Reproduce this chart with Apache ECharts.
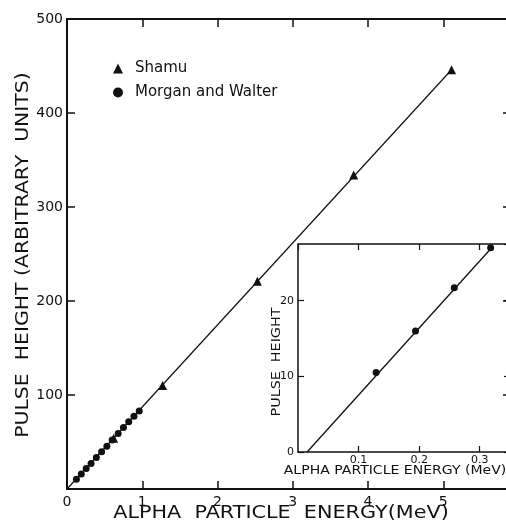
<!DOCTYPE html>
<html>
<head>
<meta charset="utf-8">
<script src="https://cdn.jsdelivr.net/npm/echarts@6/dist/echarts.min.js"></script>
<style>
  html, body { margin: 0; padding: 0; background: #fff; overflow: hidden; }
  /* the frames run slightly past the right edge of the window */
  #chart { width: 520px; height: 523px; }
</style>
</head>
<body>
<div id="chart"></div>
<script>
// Main panel: pulse height against alpha particle energy
var mainXTicks = [0, 1, 2, 3, 4, 5];
var mainYTicks = [100, 200, 300, 400, 500];

var shamuX = [0.62, 1.27, 2.53, 3.81, 5.11];
var shamuY = [54, 110, 221, 334, 446];

var morganX = [0.125, 0.19, 0.255, 0.32, 0.39, 0.46, 0.53, 0.60, 0.68, 0.75, 0.82, 0.89, 0.96];
var morganY = [10.5, 16.0, 21.7, 27.0, 33.5, 39.5, 45.5, 52.0, 59.0, 65.5, 71.5, 77.5, 83.0];

var fitX = [0, 5.11];
var fitY = [0, 446];

// Inset: low-energy region
var insetXTicks = [0.1, 0.2, 0.3];
var insetYTicks = [0, 10, 20];

var insetX = [0.129, 0.194, 0.258, 0.318];
var insetY = [10.5, 16.0, 21.7, 27.0];

var insetFitX = [0.015, 0.322];
var insetFitY = [0, 27.2];

function pairs(xs, ys) {
  return xs.map(function (x, i) { return [x, ys[i]]; });
}
function inList(list, v) {
  return list.some(function (t) { return Math.abs(t - v) < 1e-6; });
}

var FONT = 'DejaVu Sans';
var INK = '#111';

var chart = echarts.init(document.getElementById('chart'), null, { renderer: 'canvas' });

function frameAxis(base) {
  return Object.assign({
    type: 'value',
    axisLine: { show: true, onZero: false, lineStyle: { color: INK, width: 2 } },
    axisTick: { show: true, inside: true, length: 8, lineStyle: { color: INK, width: 1.5 } },
    splitLine: { show: false },
    axisLabel: { show: false }
  }, base);
}

var insetLine = { show: true, onZero: false, lineStyle: { color: INK, width: 1.5 } };
var insetTick = { show: true, inside: true, length: 6, lineStyle: { color: INK, width: 1.2 } };

chart.setOption({
  backgroundColor: '#fff',
  animation: false,
  textStyle: { fontFamily: FONT, color: INK },
  grid: [
    { left: 67, top: 19, width: 444, height: 470, containLabel: false },
    { left: 298, top: 244, width: 212, height: 208, containLabel: false }
  ],
  legend: {
    orient: 'vertical',
    left: 108,
    top: 56,
    itemWidth: 10,
    itemHeight: 10,
    itemGap: 9,
    selectedMode: false,
    textStyle: { fontFamily: FONT, fontSize: 15, color: INK, padding: [0, 0, 0, 7] },
    data: [
      { name: 'Shamu', icon: 'triangle' },
      { name: 'Morgan and Walter', icon: 'circle' }
    ]
  },
  xAxis: [
    frameAxis({
      gridIndex: 0, position: 'bottom', min: 0, max: 5.9, interval: 1,
      axisLabel: {
        show: true, margin: 6, fontFamily: FONT, fontSize: 14, color: INK,
        showMaxLabel: false,
        formatter: function (v) { return inList(mainXTicks, v) ? String(v) : ''; }
      }
    }),
    frameAxis({ gridIndex: 0, position: 'top', min: 0, max: 5.9, interval: 1 }),
    frameAxis({
      gridIndex: 1, position: 'bottom', min: 0, max: 0.35, interval: 0.1,
      axisLine: insetLine, axisTick: insetTick,
      axisLabel: {
        show: true, margin: 3, fontFamily: FONT, fontSize: 11, color: INK,
        showMinLabel: false, showMaxLabel: false,
        formatter: function (v) { return inList(insetXTicks, v) ? v.toFixed(1) : ''; }
      }
    }),
    frameAxis({
      gridIndex: 1, position: 'top', min: 0, max: 0.35, interval: 0.1,
      axisLine: insetLine, axisTick: insetTick
    })
  ],
  yAxis: [
    frameAxis({
      gridIndex: 0, position: 'left', min: 0, max: 500, interval: 100,
      axisLabel: {
        show: true, margin: 4, fontFamily: FONT, fontSize: 14, color: INK,
        showMinLabel: false,
        formatter: function (v) { return inList(mainYTicks, v) ? String(v) : ''; }
      }
    }),
    frameAxis({ gridIndex: 0, position: 'right', min: 0, max: 500, interval: 100 }),
    frameAxis({
      gridIndex: 1, position: 'left', min: 0, max: 27.5, interval: 10,
      axisLine: insetLine, axisTick: insetTick,
      axisLabel: {
        show: true, margin: 4, fontFamily: FONT, fontSize: 11, color: INK,
        showMaxLabel: false,
        formatter: function (v) { return inList(insetYTicks, v) ? String(v) : ''; }
      }
    }),
    frameAxis({
      gridIndex: 1, position: 'right', min: 0, max: 27.5, interval: 10,
      axisLine: insetLine, axisTick: insetTick
    })
  ],
  series: [
    {
      name: 'fit', type: 'line', xAxisIndex: 0, yAxisIndex: 0,
      data: pairs(fitX, fitY), symbol: 'none', silent: true,
      lineStyle: { color: INK, width: 1.2 }
    },
    {
      name: 'Morgan and Walter', type: 'scatter', xAxisIndex: 0, yAxisIndex: 0,
      data: pairs(morganX, morganY), symbol: 'circle', symbolSize: 7,
      itemStyle: { color: INK, opacity: 1 }
    },
    {
      name: 'Shamu', type: 'scatter', xAxisIndex: 0, yAxisIndex: 0,
      data: pairs(shamuX, shamuY), symbol: 'triangle', symbolSize: 9,
      itemStyle: { color: INK, opacity: 1 }
    },
    {
      name: 'inset fit', type: 'line', xAxisIndex: 2, yAxisIndex: 2,
      data: pairs(insetFitX, insetFitY), symbol: 'none', silent: true,
      lineStyle: { color: INK, width: 1.3 }
    },
    {
      name: 'inset points', type: 'scatter', xAxisIndex: 2, yAxisIndex: 2,
      data: pairs(insetX, insetY), symbol: 'circle', symbolSize: 7,
      itemStyle: { color: INK, opacity: 1 }
    }
  ],
  graphic: [
    {
      type: 'text', x: 281, y: 514, scaleX: 1.22,
      style: {
        text: 'ALPHA  PARTICLE  ENERGY(MeV)', fontFamily: FONT, fontSize: 17,
        fill: INK, align: 'center', verticalAlign: 'middle'
      }
    },
    {
      type: 'text', x: 24, y: 255, rotation: Math.PI / 2, scaleX: 1.2,
      style: {
        text: 'PULSE  HEIGHT (ARBITRARY  UNITS)', fontFamily: FONT, fontSize: 17,
        fill: INK, align: 'center', verticalAlign: 'middle'
      }
    },
    {
      type: 'text', x: 395, y: 471, scaleX: 1.22,
      style: {
        text: 'ALPHA PARTICLE ENERGY (MeV)', fontFamily: FONT, fontSize: 11.5,
        fill: INK, align: 'center', verticalAlign: 'middle'
      }
    },
    {
      type: 'text', x: 277, y: 362, rotation: Math.PI / 2, scaleX: 1.1,
      style: {
        text: 'PULSE  HEIGHT', fontFamily: FONT, fontSize: 13,
        fill: INK, align: 'center', verticalAlign: 'middle'
      }
    }
  ]
});
</script>
</body>
</html>
